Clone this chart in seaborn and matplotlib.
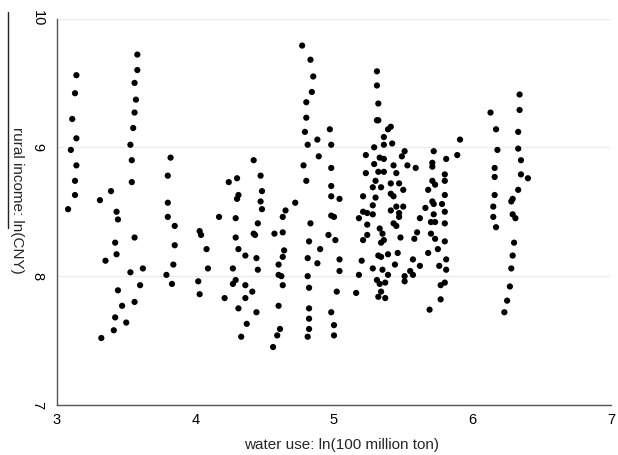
import matplotlib
matplotlib.use("Agg")
import matplotlib.pyplot as plt
import seaborn as sns
import pandas as pd
from matplotlib.lines import Line2D

# ---- data ----
water_use = [
    3.14, 3.13, 3.11, 3.14, 3.10, 3.14, 3.13, 3.13, 3.08,
    3.31, 3.39, 3.43, 3.44, 3.42, 3.43, 3.35, 3.44, 3.47, 3.42, 3.50, 3.41, 3.32,
    3.58, 3.58, 3.56, 3.57, 3.56, 3.55, 3.53, 3.54, 3.54, 3.56, 3.53, 3.62, 3.60, 3.56,
    3.82, 3.80, 3.80, 3.80, 3.85, 3.85, 3.84, 3.79, 3.83,
    4.03, 4.04, 4.08, 4.09, 4.02, 4.03, 4.17,
    4.24, 4.30, 4.31, 4.30, 4.29, 4.29, 4.31, 4.36, 4.27, 4.29, 4.27, 4.21, 4.31, 4.37, 4.33,
    4.36, 4.41, 4.36, 4.44, 4.42, 4.47, 4.48, 4.47, 4.48, 4.45, 4.42, 4.43, 4.44, 4.45,
    4.65, 4.63, 4.57, 4.63, 4.64, 4.63, 4.60, 4.60, 4.62, 4.63, 4.60, 4.61, 4.59, 4.56, 4.72,
    4.77, 4.83, 4.85, 4.84, 4.80, 4.80, 4.79, 4.81, 4.88, 4.89, 4.78, 4.80, 4.83, 4.82, 4.81,
    4.90, 4.88, 4.81, 4.82, 4.82, 4.82, 4.82, 4.81,
    4.97, 4.98, 4.98, 4.98, 4.98, 5.04, 4.98, 5.00, 4.96, 5.01, 5.04, 5.04, 5.02, 4.98, 5.00, 5.00,
    5.16, 5.18, 5.20, 5.18, 5.21, 5.24, 5.24, 5.21, 5.24, 5.21, 5.23, 5.23, 5.29, 5.29, 5.28,
    5.28, 5.28, 5.30, 5.30, 5.32, 5.33, 5.36, 5.31, 5.31, 5.32, 5.31, 5.32, 5.28, 5.31, 5.33,
    5.37, 5.32, 5.37, 5.34, 5.33, 5.35, 5.36, 5.34, 5.32, 5.34, 5.35,
    5.39, 5.41, 5.36, 5.36, 5.42, 5.51, 5.49, 5.53, 5.59, 5.36, 5.43, 5.45, 5.34, 5.41, 5.47,
    5.41, 5.43, 5.50, 5.41, 5.45, 5.50, 5.47, 5.47, 5.43, 5.45, 5.48, 5.58, 5.60, 5.62, 5.66,
    5.39, 5.46, 5.39, 5.44, 5.57, 5.62, 5.55, 5.57, 5.51, 5.51, 5.68,
    5.72, 5.71, 5.71, 5.81, 5.89, 5.91, 5.80, 5.80, 5.71, 5.73, 5.80, 5.68, 5.71, 5.72, 5.78,
    5.72, 5.80, 5.70, 5.73, 5.80, 5.70, 5.73, 5.80, 5.75, 5.81, 5.76, 5.81, 5.80, 5.77, 5.77, 5.69,
    6.13, 6.17, 6.18, 6.16, 6.16, 6.16, 6.15, 6.15, 6.17,
    6.34, 6.34, 6.33, 6.33, 6.35, 6.35, 6.40, 6.33, 6.29, 6.28, 6.29, 6.31, 6.30, 6.29, 6.28,
    6.27, 6.25, 6.23,
]
rural_income = [
    9.56, 9.42, 9.22, 9.07, 8.98, 8.86, 8.74, 8.63, 8.52,
    8.59, 8.66, 8.50, 8.44, 8.26, 8.17, 8.12, 7.89, 7.77, 7.68, 7.64, 7.58, 7.52,
    9.72, 9.60, 9.50, 9.37, 9.27, 9.15, 9.02, 8.90, 8.73, 8.30, 8.03, 8.06, 7.93, 7.80,
    8.92, 8.78, 8.57, 8.46, 8.39, 8.24, 8.09, 8.01, 7.94,
    8.35, 8.32, 8.21, 8.06, 7.96, 7.86, 8.46,
    8.73, 8.76, 8.63, 8.60, 8.45, 8.30, 8.21, 8.16, 8.06, 7.97, 7.94, 7.83, 7.75, 7.63, 7.53,
    7.93, 7.88, 7.83, 7.72, 8.90, 8.78, 8.66, 8.58, 8.52, 8.41, 8.33, 8.32, 8.14, 8.05,
    8.51, 8.46, 8.33, 8.34, 8.20, 8.15, 8.09, 8.01, 8.00, 7.93, 7.77, 7.59, 7.54, 7.45, 8.57,
    9.79, 9.68, 9.55, 9.43, 9.35, 9.23, 9.12, 9.02, 9.06, 8.93, 8.86, 8.74, 8.41, 8.27, 8.14,
    8.21, 8.10, 8.00, 7.91, 7.75, 7.67, 7.59, 7.53,
    9.14, 9.02, 8.84, 8.70, 8.62, 8.60, 8.47, 8.46, 8.32, 8.28, 8.13, 8.04, 7.88, 7.72, 7.62, 7.54,
    7.87, 8.01, 8.12, 8.45, 8.28, 8.40, 8.32, 8.50, 8.49, 8.62, 8.80, 8.94, 9.00, 8.87, 8.69,
    8.55, 8.48, 8.61, 8.74, 8.81, 8.92, 8.91, 9.59, 9.48, 9.34, 9.21, 9.21, 8.06, 7.97, 7.94,
    7.95, 7.84, 7.83, 7.88, 8.37, 8.33, 8.28, 8.26, 8.16, 8.15, 8.05,
    9.14, 9.16, 9.08, 9.02, 9.03, 8.97, 8.93, 8.86, 8.84, 8.81, 8.86, 8.80, 8.69, 8.72, 8.72,
    8.64, 8.62, 8.67, 8.51, 8.54, 8.54, 8.49, 8.46, 8.41, 8.39, 8.30, 8.29, 8.34, 8.45, 8.53,
    8.17, 8.18, 8.01, 8.09, 8.13, 8.08, 8.04, 8.01, 8.00, 7.96, 8.18,
    8.97, 8.88, 8.85, 8.91, 8.94, 9.06, 8.79, 8.74, 8.74, 8.71, 8.63, 8.67, 8.58, 8.56, 8.56,
    8.48, 8.50, 8.42, 8.42, 8.41, 8.33, 8.29, 8.27, 8.21, 8.13, 8.08, 8.05, 7.95, 7.93, 7.82, 7.74,
    9.27, 9.14, 8.98, 8.84, 8.77, 8.63, 8.54, 8.46, 8.38,
    9.41, 9.29, 9.12, 8.99, 8.90, 8.79, 8.76, 8.67, 8.60, 8.58, 8.48, 8.45, 8.26, 8.16, 8.06,
    7.92, 7.81, 7.72,
]
x_ticks = [3, 4, 5, 6, 7]
y_ticks = [7, 8, 9, 10]
x_title = "water use: ln(100 million ton)"
y_title = "rural income: ln(CNY)"

df = pd.DataFrame({"water": water_use, "income": rural_income})

sns.set_style("white")
plt.rcParams["font.family"] = ["Liberation Sans", "DejaVu Sans"]

fig = plt.figure(figsize=(6.18, 4.55), dpi=100)
ax = fig.add_axes([57 / 618, 1 - 405 / 455, (611 - 57) / 618, (405 - 18.5) / 455])

sns.scatterplot(data=df, x="water", y="income", ax=ax, color="black",
                s=20, linewidth=0, edgecolor="none", zorder=3)

ax.set_xlim(3, 7)
ax.set_ylim(7, 10)
ax.set_xticks(x_ticks)
ax.set_yticks(y_ticks)
ax.set_xticklabels([str(t) for t in x_ticks], fontsize=10.5)
ax.set_yticklabels([str(t) for t in y_ticks], fontsize=10.5, rotation=-90,
                   va="center", ha="right")

ax.yaxis.grid(True, color="#ececec", linewidth=0.9, zorder=0)
ax.xaxis.grid(False)

for side in ("top", "right"):
    ax.spines[side].set_visible(False)
for side in ("left", "bottom"):
    ax.spines[side].set_color("#555555")
    ax.spines[side].set_linewidth(1.0)

ax.tick_params(axis="x", direction="in", length=3, color="#cccccc", pad=6, labelcolor="black")
ax.tick_params(axis="y", direction="in", length=0, pad=9, labelcolor="black")

ax.set_xlabel(x_title, fontsize=11)
ax.xaxis.set_label_coords(0.514, -0.085)
ax.set_ylabel(y_title, fontsize=11, rotation=270, rotation_mode="anchor",
              ha="center", va="center")
ax.yaxis.set_label_coords(-0.072, 0.53)

# underline artefact next to the y-axis title
fig.add_artist(Line2D([8 / 618, 8 / 618], [1 - 12 / 455, 1 - 228 / 455],
                      transform=fig.transFigure, color="#222222", linewidth=1.0))

fig.savefig("out.png", dpi=100)
